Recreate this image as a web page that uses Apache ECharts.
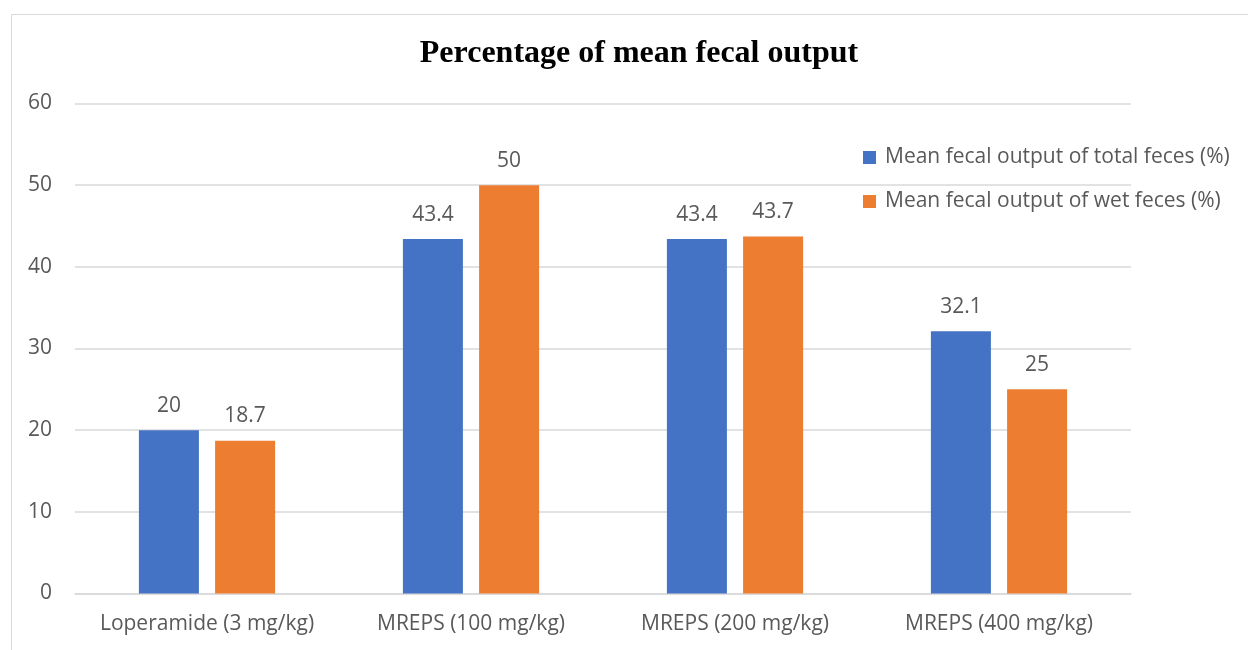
<!DOCTYPE html>
<html>
<head>
<meta charset="utf-8">
<script src="https://cdn.jsdelivr.net/npm/echarts@6/dist/echarts.min.js"></script>
<style>
  html, body { margin: 0; padding: 0; background: #fff; }
  #chart { width: 1248px; height: 650px; }
</style>
</head>
<body>
<div id="chart"></div>
<script>
// Treatment groups and their fecal output percentages
const categories = ['Loperamide (3 mg/kg)', 'MREPS (100 mg/kg)', 'MREPS (200 mg/kg)', 'MREPS (400 mg/kg)'];
const totalFeces = [20, 43.4, 43.4, 32.1];
const wetFeces = [18.7, 50, 43.7, 25];
const seriesNames = ['Mean fecal output of total feces (%)', 'Mean fecal output of wet feces (%)'];
const yTicks = { min: 0, max: 60, interval: 10 };

const textColor = '#595959';
const fontFamily = '"Open Sans", sans-serif';
const fontSize = 21;

const chart = echarts.init(document.getElementById('chart'));

const labelStyle = {
  show: true,
  position: 'top',
  distance: 14,
  color: textColor,
  fontFamily: fontFamily,
  fontSize: fontSize
};

chart.setOption({
  animation: false,
  backgroundColor: '#fff',
  graphic: [{
    type: 'rect',
    shape: { x: 11.5, y: 14.5, width: 1300, height: 700 },
    style: { fill: 'none', stroke: '#d9d9d9', lineWidth: 1 },
    silent: true,
    z: -1
  }],
  title: {
    text: 'Percentage of mean fecal output',
    left: 634,
    textAlign: 'center',
    top: 33,
    textStyle: {
      fontFamily: '"Liberation Serif", "Times New Roman", serif',
      fontWeight: 'bold',
      fontSize: 32,
      color: '#000'
    }
  },
  legend: {
    orient: 'vertical',
    left: 858,
    top: 142,
    itemWidth: 13,
    itemHeight: 13,
    itemGap: 23,
    icon: 'rect',
    textStyle: { color: textColor, fontFamily: fontFamily, fontSize: fontSize, padding: [0, 0, 0, 4] },
    data: seriesNames
  },
  grid: { left: 75, right: 117, top: 103.5, bottom: 56.5, containLabel: false },
  xAxis: {
    type: 'category',
    data: categories,
    axisLine: { lineStyle: { color: '#d9d9d9', width: 1.5 } },
    axisTick: { show: false },
    axisLabel: { interval: 0, color: textColor, fontFamily: fontFamily, fontSize: fontSize, margin: 20 }
  },
  yAxis: {
    type: 'value',
    min: yTicks.min,
    max: yTicks.max,
    interval: yTicks.interval,
    axisLine: { show: false },
    axisTick: { show: false },
    splitLine: { lineStyle: { color: '#d9d9d9', width: 1.5 } },
    axisLabel: { color: textColor, fontFamily: fontFamily, fontSize: fontSize, margin: 23 }
  },
  series: [
    {
      name: seriesNames[0],
      type: 'bar',
      data: totalFeces,
      barWidth: 60,
      barGap: '27%',
      itemStyle: { color: '#4472c4' },
      label: labelStyle
    },
    {
      name: seriesNames[1],
      type: 'bar',
      data: wetFeces,
      barWidth: 60,
      barGap: '27%',
      itemStyle: { color: '#ed7d31' },
      label: labelStyle
    }
  ]
});
</script>
</body>
</html>
